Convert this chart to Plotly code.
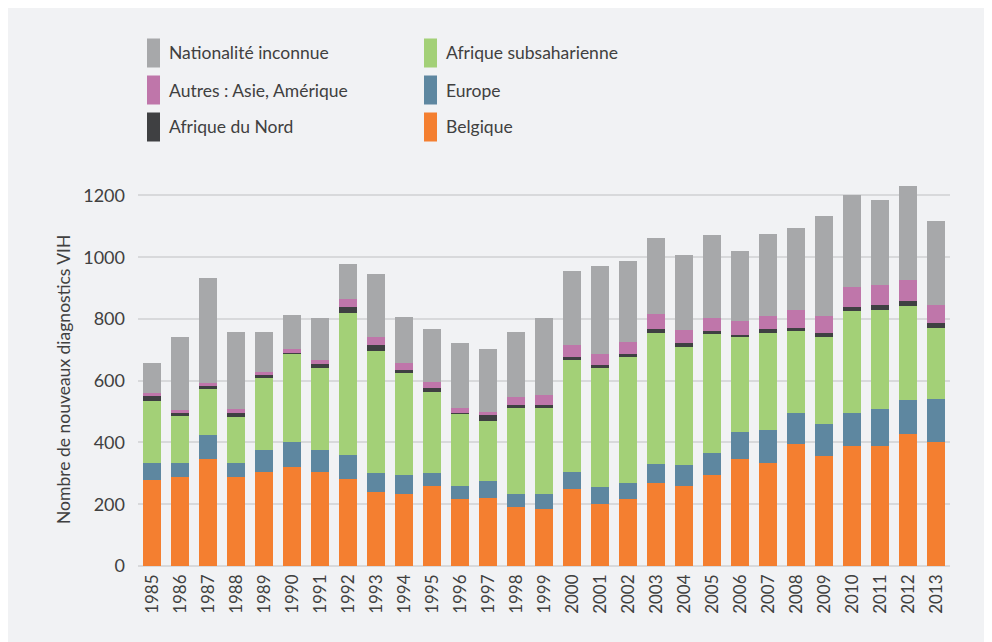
import plotly.graph_objects as go

years = [str(y) for y in range(1985, 2014)]

belgique = [277, 287, 345, 287, 306, 319, 306, 281, 239, 232, 258, 216, 219, 190, 184,
            248, 200, 216, 268, 258, 294, 348, 335, 394, 355, 387, 387, 429, 403]
europe = [55, 48, 78, 48, 71, 84, 71, 77, 61, 62, 42, 42, 55, 42, 48,
          55, 55, 52, 61, 68, 71, 87, 107, 103, 106, 107, 123, 110, 139]
afrique_ss = [203, 152, 151, 149, 233, 284, 265, 461, 397, 332, 265, 236, 197, 281, 281,
              365, 387, 409, 426, 384, 387, 307, 313, 264, 281, 332, 319, 303, 229]
afrique_nord = [17, 10, 10, 10, 9, 3, 13, 20, 19, 10, 12, 3, 19, 10, 10,
                9, 10, 10, 13, 13, 9, 6, 13, 10, 13, 13, 16, 16, 16]
autres = [9, 9, 10, 16, 10, 13, 13, 26, 26, 22, 20, 16, 10, 25, 32,
          39, 35, 39, 48, 42, 42, 46, 42, 58, 55, 64, 65, 68, 58]
inconnue = [97, 236, 338, 248, 129, 110, 135, 112, 203, 148, 171, 210, 203, 210, 248,
            239, 284, 261, 245, 241, 268, 225, 264, 265, 322, 297, 274, 303, 271]

series_names = ["Belgique", "Europe", "Afrique subsaharienne", "Afrique du Nord",
                "Autres : Asie, Amérique", "Nationalité inconnue"]
series_values = [belgique, europe, afrique_ss, afrique_nord, autres, inconnue]
series_colors = ["#f47f30", "#5e87a0", "#a3d077", "#3f4042", "#bf76aa", "#a7a8aa"]

y_ticks = [0, 200, 400, 600, 800, 1000, 1200]
y_title = "Nombre de nouveaux diagnostics VIH"

# legend layout (two columns, three rows)
legend_cols = [["Nationalité inconnue", "Autres : Asie, Amérique", "Afrique du Nord"],
               ["Afrique subsaharienne", "Europe", "Belgique"]]

FONT = "Lato"
TXT = "#404040"
BG = "#f1f2f4"

fig = go.Figure()
for name, vals, col in zip(series_names, series_values, series_colors):
    fig.add_trace(go.Bar(x=years, y=vals, name=name, marker=dict(color=col, line=dict(width=0)),
                         showlegend=False))

W, H = 984, 634
ML, MR, MT, MB = 130, 42, 172, 76
PW, PH = W - ML - MR, H - MT - MB
OFF = 8  # page offset of the figure (body margin)

def px2paper(px, py):
    return (px - OFF - ML) / PW, (H - MB - (py - OFF)) / PH

shapes = []
annotations = []
col_x = [147, 424]
row_y = [53, 90, 127]
color_of = dict(zip(series_names, series_colors))
for ci, col in enumerate(legend_cols):
    for ri, name in enumerate(col):
        x0, y0 = px2paper(col_x[ci], row_y[ri] - 14.5)
        x1, y1 = px2paper(col_x[ci] + 13, row_y[ri] + 14.5)
        shapes.append(dict(type="rect", xref="paper", yref="paper", x0=x0, x1=x1, y0=y1, y1=y0,
                           fillcolor=color_of[name], line=dict(width=0)))
        tx, ty = px2paper(col_x[ci] + 20, row_y[ri])
        annotations.append(dict(x=tx, y=ty, xref="paper", yref="paper", text=name,
                                showarrow=False, xanchor="left", yanchor="middle",
                                font=dict(family=FONT, size=17.5, color=TXT)))

# y-axis title placed as rotated text
ttx, tty = px2paper(63, 380)
annotations.append(dict(x=ttx, y=tty, xref="paper", yref="paper", text=y_title,
                        textangle=-90, showarrow=False, xanchor="center", yanchor="middle",
                        font=dict(family=FONT, size=17.5, color=TXT)))

fig.update_layout(
    width=W, height=H,
    barmode="stack", bargap=0.36,
    paper_bgcolor=BG, plot_bgcolor=BG,
    margin=dict(l=ML, r=MR, t=MT, b=MB),
    font=dict(family=FONT, size=17, color=TXT),
    shapes=shapes, annotations=annotations,
    xaxis=dict(tickangle=-90, showgrid=False, showline=False, ticks="",
               tickfont=dict(family=FONT, size=17, color=TXT), ticklabelstandoff=4),
    yaxis=dict(range=[0, 1250], tickvals=y_ticks, showgrid=True, gridcolor="#d8d9db",
               gridwidth=2, zeroline=True, zerolinecolor="#d8d9db", zerolinewidth=2,
               showline=False, ticks="", ticklabelstandoff=12,
               tickfont=dict(family=FONT, size=18, color=TXT)),
)

fig.write_html("out.html")
